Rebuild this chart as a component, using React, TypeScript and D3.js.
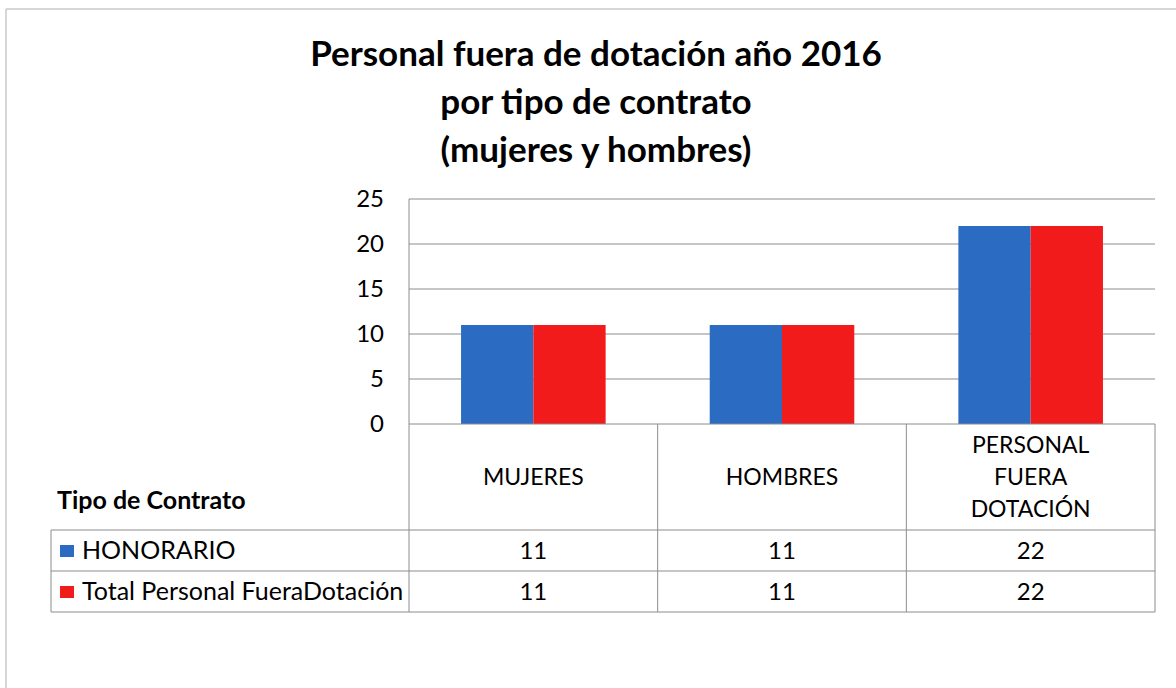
import React from "react";
import * as d3 from "d3";

const categories = ["MUJERES", "HOMBRES", "PERSONAL FUERA DOTACIÓN"];
const categoryLines = [["MUJERES"], ["HOMBRES"], ["PERSONAL", "FUERA", "DOTACIÓN"]];
const seriesNames = ["HONORARIO", "Total Personal FueraDotación"];
const honorario = [11, 11, 22];
const totalFuera = [11, 11, 22];
const seriesColors = ["#2b6cc2", "#f21b1c"];
const yTicks = [0, 5, 10, 15, 20, 25];
const titleLines = ["Personal fuera de dotación año 2016", "por tipo de contrato", "(mujeres y hombres)"];

const W = 1176;
const H = 688;
const plotLeft = 409;
const plotRight = 1155;
const plotTop = 199;
const plotBottom = 424;
const headerBottom = 530;
const rowH = 41;
const tableLeft = 51;
const font = "Lato, 'Open Sans', sans-serif";

const App = () => {
  const x = d3.scaleBand<string>().domain(categories).range([plotLeft, plotRight]).paddingInner(0).paddingOuter(0);
  const xs = d3
    .scaleBand<string>()
    .domain(seriesNames)
    .range([0, x.bandwidth()])
    .paddingOuter(0.72)
    .paddingInner(0);
  const y = d3.scaleLinear().domain([0, 25]).range([plotBottom, plotTop]);
  const series = [honorario, totalFuera];
  const tableBottom = headerBottom + rowH * series.length;

  return (
    <svg width={W} height={H} style={{ position: "absolute", left: 0, top: 0, display: "block" }}>
      <rect x={0} y={0} width={W} height={H} fill="#fff" />
      <line x1={6} y1={9} x2={W} y2={9} stroke="#c8c8c8" strokeWidth={1.5} />
      <line x1={6} y1={9} x2={6} y2={H} stroke="#c8c8c8" strokeWidth={1.5} />

      {titleLines.map((t, i) => (
        <text
          key={t}
          x={596}
          y={66 + i * 48}
          textAnchor="middle"
          fontFamily={font}
          fontWeight="bold"
          fontSize={35}
          fill="#000"
        >
          {t}
        </text>
      ))}

      {/* gridlines */}
      {yTicks.map((t) => (
        <g key={t}>
          {t > 0 && (
            <line x1={plotLeft} x2={plotRight} y1={y(t)} y2={y(t)} stroke="#8c8c8c" strokeWidth={1} />
          )}
          <text
            x={384}
            y={y(t) + 8}
            textAnchor="end"
            fontFamily={font}
            fontSize={24}
            fill="#000"
          >
            {t}
          </text>
        </g>
      ))}
      <line x1={plotLeft} x2={plotLeft} y1={plotTop} y2={tableBottom} stroke="#8c8c8c" />

      {/* bars */}
      {categories.map((c, ci) =>
        series.map((s, si) => (
          <rect
            key={c + si}
            x={(x(c) as number) + (xs(seriesNames[si]) as number)}
            y={y(s[ci])}
            width={xs.bandwidth()}
            height={y(0) - y(s[ci])}
            fill={seriesColors[si]}
          />
        ))
      )}

      {/* data table */}
      <line x1={plotLeft} x2={plotRight} y1={plotBottom} y2={plotBottom} stroke="#8c8c8c" />
      {categories.map((c) => (
        <line
          key={"v" + c}
          x1={(x(c) as number) + x.bandwidth()}
          x2={(x(c) as number) + x.bandwidth()}
          y1={plotBottom}
          y2={tableBottom}
          stroke="#8c8c8c"
        />
      ))}
      <line x1={tableLeft} x2={tableLeft} y1={headerBottom} y2={tableBottom} stroke="#8c8c8c" />
      {d3.range(series.length + 1).map((i) => (
        <line
          key={"h" + i}
          x1={tableLeft}
          x2={plotRight}
          y1={headerBottom + i * rowH}
          y2={headerBottom + i * rowH}
          stroke="#8c8c8c"
        />
      ))}

      {categories.map((c, ci) => {
        const lines = categoryLines[ci];
        const mid = (plotBottom + headerBottom) / 2 + 8;
        return lines.map((l, li) => (
          <text
            key={c + l}
            x={(x(c) as number) + x.bandwidth() / 2}
            y={mid + (li - (lines.length - 1) / 2) * 32}
            textAnchor="middle"
            fontFamily={font}
            fontSize={23}
            fill="#000"
          >
            {l}
          </text>
        ));
      })}

      <text x={57} y={509} fontFamily={font} fontWeight="bold" fontSize={25} fill="#000">
        Tipo de Contrato
      </text>

      {series.map((s, si) => {
        const rowY = headerBottom + si * rowH;
        return (
          <g key={seriesNames[si]}>
            <rect x={60} y={rowY + 15} width={14} height={12} fill={seriesColors[si]} />
            <text x={82} y={rowY + 29} fontFamily={font} fontSize={25} fill="#000">
              {seriesNames[si]}
            </text>
            {categories.map((c, ci) => (
              <text
                key={c}
                x={(x(c) as number) + x.bandwidth() / 2}
                y={rowY + 29}
                textAnchor="middle"
                fontFamily={font}
                fontSize={24}
                fill="#000"
              >
                {s[ci]}
              </text>
            ))}
          </g>
        );
      })}
    </svg>
  );
};

export default App;
